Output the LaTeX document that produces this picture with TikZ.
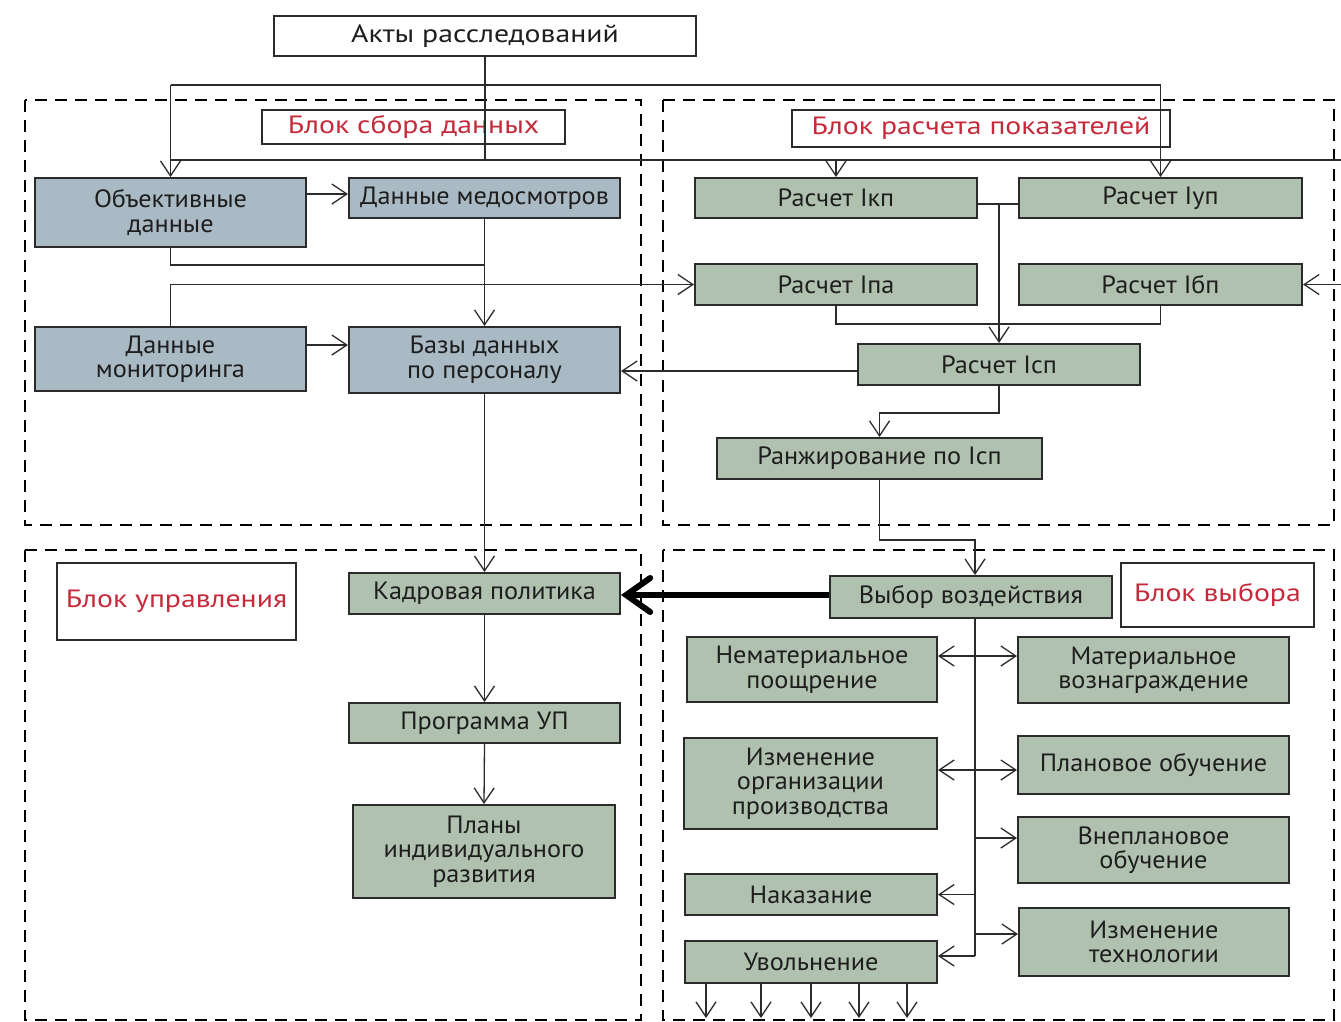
\documentclass[tikz,border=0pt]{standalone}
\usepackage{fontspec}
\setmainfont{PT Sans}
\newfontfamily\boxfont[FakeStretch=1.05]{PT Sans}
\newfontfamily\redfont[FakeStretch=1.19]{PT Sans}
\usetikzlibrary{arrows.meta}
\definecolor{bluebox}{HTML}{A9BAC4}
\definecolor{greenbox}{HTML}{B1C1AF}
\definecolor{redtxt}{HTML}{C62A3A}
\definecolor{edge}{HTML}{2B2B2B}
\definecolor{txt}{HTML}{1E1E1E}
\tikzset{
  base/.style={draw=edge, line width=2pt, inner sep=0pt, align=center, text=txt,
    font=\boxfont\fontsize{25}{24.5}\selectfont},
  bbox/.style={base, fill=bluebox},
  gbox/.style={base, fill=greenbox},
  wbox/.style={base, fill=white, line width=1.6pt},
  lbl/.style={base, fill=white, line width=1.6pt, text=redtxt, font=\redfont\fontsize{25}{26}\selectfont},
  zone/.style={draw=black, line width=2.8pt, dash pattern=on 12pt off 8pt},
  conn/.style={draw=edge, line width=1.3pt},
  arr/.style={conn, -{Straight Barb[length=15pt,width=20pt,line width=1.3pt]}},
  darr/.style={conn, {Straight Barb[length=15pt,width=20pt,line width=1.3pt]}-{Straight Barb[length=15pt,width=20pt,line width=1.3pt]}},
  bigarr/.style={draw=black, line width=6pt, -{Straight Barb[length=24pt,width=34pt,line width=6pt,line cap=round]}}
}
\begin{document}
\begin{tikzpicture}[x=1pt,y=-1pt]
\useasboundingbox[fill=white] (0,0) rectangle (1341,1021);

% zones
\draw[zone] (25,100) rectangle (641,525);
\draw[zone] (663,100) rectangle (1334,525);
\draw[zone] (25,550) rectangle (641,1020);
\draw[zone] (663,550) rectangle (1334,1020);

\coordinate (j1) at (485,85);
\coordinate (j2) at (485,160);
\coordinate (e1) at (1341,160);
\coordinate (e2) at (1341,284.5);

% nodes
\node[wbox, minimum width=422pt, minimum height=40pt, font=\redfont\fontsize{25}{26}\selectfont] (akty) at (485,36) {Акты расследований};

\node[bbox, minimum width=271pt, minimum height=69pt] (obj) at (170.5,212.5) {Объективные\\данные};
\node[bbox, minimum width=271pt, minimum height=40pt] (med) at (484.5,198) {Данные медосмотров};
\node[bbox, minimum width=271pt, minimum height=64pt] (mon) at (170.5,359) {Данные\\мониторинга};
\node[bbox, minimum width=271pt, minimum height=66pt] (baz) at (484.5,360) {Базы данных\\по персоналу};

\node[gbox, minimum width=282pt, minimum height=40pt] (ikp) at (836,198) {Расчет Iкп};
\node[gbox, minimum width=283pt, minimum height=40pt] (iup) at (1160.5,198) {Расчет Iуп};
\node[gbox, minimum width=282pt, minimum height=41pt] (ipa) at (836,284.5) {Расчет Iпа};
\node[gbox, minimum width=283pt, minimum height=41pt] (ibp) at (1160.5,284.5) {Расчет Iбп};
\node[gbox, minimum width=282pt, minimum height=41pt] (isp) at (999,364.5) {Расчет Iсп};
\node[gbox, minimum width=325pt, minimum height=41pt] (rank) at (879.5,458.5) {Ранжирование по Iсп};

\node[gbox, minimum width=271pt, minimum height=41pt] (kadr) at (484.5,593.5) {Кадровая политика};
\node[gbox, minimum width=271pt, minimum height=40pt] (prog) at (484.5,723) {Программа УП};
\node[gbox, minimum width=262pt, minimum height=93pt] (plan) at (484,851.5) {Планы\\индивидуального\\развития};

\node[gbox, minimum width=282pt, minimum height=42pt] (vyb) at (971,597) {Выбор воздействия};
\node[gbox, minimum width=250pt, minimum height=65pt] (nemat) at (812,669.5) {Нематериальное\\поощрение};
\node[gbox, minimum width=271pt, minimum height=66pt] (mat) at (1153.5,670) {Материальное\\вознаграждение};
\node[gbox, minimum width=253pt, minimum height=91pt] (izmorg) at (810.5,783.5) {Изменение\\организации\\производства};
\node[gbox, minimum width=271pt, minimum height=58pt] (planob) at (1153.5,765) {Плановое обучение};
\node[gbox, minimum width=271pt, minimum height=66pt] (vneplan) at (1153.5,850) {Внеплановое\\обучение};
\node[gbox, minimum width=252pt, minimum height=41pt] (nakaz) at (811,894.5) {Наказание};
\node[gbox, minimum width=270pt, minimum height=68pt] (izmtech) at (1154,942) {Изменение\\технологии};
\node[gbox, minimum width=252pt, minimum height=42pt] (uvol) at (811,962) {Увольнение};

\node[lbl, minimum width=303pt, minimum height=34pt] (l1) at (413.5,127) {Блок сбора данных};
\node[lbl, minimum width=378pt, minimum height=37pt] (l2) at (981,128.5) {Блок расчета показателей};
\node[lbl, minimum width=239pt, minimum height=77pt] (l3) at (176.5,601.5) {Блок управления};
\node[lbl, minimum width=193pt, minimum height=64pt] (l4) at (1217.5,595) {Блок выбора};

% top distribution
\draw[conn] (akty.south) -- (j2);
\draw[arr] (j1 -| obj.north) -- (obj.north);
\draw[arr] (j1 -| obj.north) -| (iup.north);
\draw[conn] (j2 -| obj.north) -- (e1);
\draw[arr] (j2 -| ikp.north) -- (ikp.north);
\draw[arr] (e2) -- (ibp.east);

% data block
\draw[arr] (obj.east |- 0,194) -- (med.west |- 0,194);
\draw[conn] (obj.south) |- (485,265);
\draw[arr] (med.south) -- (baz.north);
\draw[arr] (mon.north) |- (ipa.west);
\draw[arr] (mon.east |- 0,345) -- (baz.west |- 0,345);
\draw[arr] (isp.west |- 0,371) -- (baz.east |- 0,371);

% calc block
\draw[conn] (ikp.east |- 0,204) -- (iup.west |- 0,204);
\draw[arr] (isp.north |- 0,204) -- (isp.north);
\draw[conn] (ipa.south) |- (ibp.south |- 0,324) -- (ibp.south);
\draw[arr] (isp.south) -- ++(0,27) -| (rank.north);
\coordinate (sp) at (975,618);
\draw[arr] (rank.south) -- ++(0,60) -| (sp |- vyb.north);

% management block
\draw[arr] (baz.south) -- (kadr.north);
\draw[arr] (kadr.south) -- (prog.north);
\draw[arr] (prog.south) -- (plan.north);
\draw[bigarr] (vyb.west |- 0,595) -- (kadr.east |- 0,595);

% choice block
\draw[conn] (sp) -- (975,956);
\draw[darr] (nemat.east |- 0,656) -- (mat.west |- 0,656);
\draw[darr] (izmorg.east |- 0,770) -- (planob.west |- 0,770);
\draw[arr] (sp |- 0,838) -- (vneplan.west |- 0,838);
\draw[arr] (sp |- nakaz.east) -- (nakaz.east);
\draw[arr] (sp |- 0,934) -- (izmtech.west |- 0,934);
\draw[arr] (sp |- 0,956) -- (uvol.east |- 0,956);
\foreach \i/\xx in {1/706,2/761,3/811,4/859,5/907}{
  \coordinate (d\i) at (\xx,1018);
  \draw[arr] (uvol.south -| d\i) -- (d\i);
}
\end{tikzpicture}
\end{document}
